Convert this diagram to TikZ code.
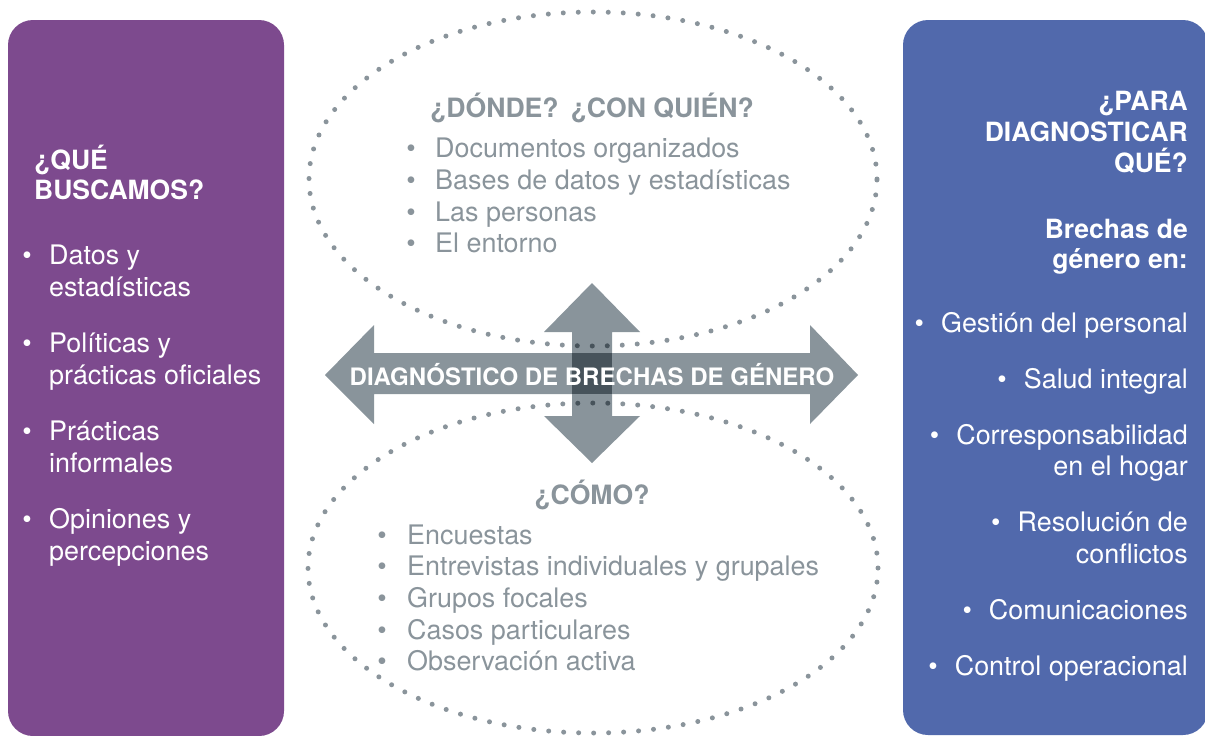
\documentclass[tikz,border=0pt]{standalone}
\usepackage{fontspec}
\setmainfont{TeX Gyre Heros}
\definecolor{purplebox}{HTML}{7D4A8E}
\definecolor{bluebox}{HTML}{5169AC}
\definecolor{arrowgray}{HTML}{89949B}
\definecolor{darkgray}{HTML}{47535B}
\definecolor{textgray}{HTML}{8A949B}
\begin{document}
\begin{tikzpicture}[x=1pt,y=-1pt,
  panel/.style={rounded corners=25pt},
  dots/.style={line width=5pt, line cap=round, dash pattern=on 0pt off 15pt},
  wtitle/.style={font=\fontsize{26.5}{30}\selectfont\bfseries, text=white, inner sep=0pt},
  wbody/.style={font=\fontsize{26.9}{31}\selectfont, text=white, inner sep=0pt},
  gtitle/.style={font=\fontsize{26.6}{30}\selectfont\bfseries, text=textgray, inner sep=0pt},
  gbody/.style={font=\fontsize{26.9}{31}\selectfont, text=textgray, inner sep=0pt},
  ctitle/.style={font=\fontsize{24}{28}\selectfont\bfseries, text=white, inner sep=0pt}]
\useasboundingbox (0,0) rectangle (1205,736);
% panels
\fill[purplebox, panel] (8,20) rectangle (284,736);
\fill[bluebox, panel] (903,20) rectangle (1208,735);
% dotted ellipses
\draw[dots, textgray] (593,179) ellipse [x radius=284pt, y radius=167pt];
\draw[dots, textgray] (593,568) ellipse [x radius=285pt, y radius=165pt];
% arrows
\fill[arrowgray] (325,375) -- (374,325) -- (374,353) -- (810,353) -- (810,325) -- (858,375) -- (810,424) -- (810,394) -- (374,394) -- (374,424) -- cycle;
\fill[arrowgray] (592,283) -- (640,332) -- (612,332) -- (612,416) -- (640,416) -- (592,463) -- (544,416) -- (572,416) -- (572,332) -- (544,332) -- cycle;
\fill[darkgray] (572,353) rectangle (612,394);
\begin{scope}
\clip (325,375) -- (374,325) -- (374,353) -- (810,353) -- (810,325) -- (858,375) -- (810,424) -- (810,394) -- (374,394) -- (374,424) -- cycle;
\draw[dots, darkgray] (593,179) ellipse [x radius=284pt, y radius=167pt];
\draw[dots, darkgray] (593,568) ellipse [x radius=285pt, y radius=165pt];
\end{scope}
\begin{scope}
\clip (592,283) -- (640,332) -- (612,332) -- (612,416) -- (640,416) -- (592,463) -- (544,416) -- (572,416) -- (572,332) -- (544,332) -- cycle;
\draw[dots, darkgray] (593,179) ellipse [x radius=284pt, y radius=167pt];
\draw[dots, darkgray] (593,568) ellipse [x radius=285pt, y radius=165pt];
\end{scope}
\node[ctitle, anchor=base] (center) at (592,385) {DIAGNÓSTICO DE BRECHAS DE GÉNERO};
% left panel
\node[wtitle, anchor=base west] (lt1) at (34,169) {¿QUÉ};
\node[wtitle, anchor=base west] (lt2) at (34,199) {BUSCAMOS?};
\foreach \y/\t/\b [count=\i] in {264/Datos y/1, 296/estadísticas/0, 352/Políticas y/1, 384/prácticas oficiales/0, 440/Prácticas/1, 472/informales/0, 528/Opiniones y/1, 560/percepciones/0}{
  \node[wbody, anchor=base west] (l\i) at (49,\y) {\t};
  \ifnum\b=1 \node[wbody, anchor=base] (lb\i) at (27,\y) {\textbullet}; \fi
}
% right panel
\node[wtitle, anchor=base east] (rt1) at (1188,110) {¿PARA};
\node[wtitle, anchor=base east] (rt2) at (1188,141) {DIAGNOSTICAR};
\node[wtitle, anchor=base east] (rt3) at (1188,172) {QUÉ?};
\node[wtitle, anchor=base east] (rt4) at (1188,238) {Brechas de};
\node[wtitle, anchor=base east] (rt5) at (1188,268) {género en:};
\foreach \y/\t [count=\i] in {332/\textbullet\hspace{17pt}Gestión del personal, 388/\textbullet\hspace{17pt}Salud integral, 444/\textbullet\hspace{17pt}Corresponsabilidad, 475/en el hogar, 531/\textbullet\hspace{17pt}Resolución de, 563/conflictos, 619/\textbullet\hspace{17pt}Comunicaciones, 675/\textbullet\hspace{17pt}Control operacional}{
  \node[wbody, anchor=base east] (r\i) at (1188,\y) {\t};
}
% top ellipse text
\node[gtitle, anchor=base] (tt) at (592,117) {¿DÓNDE?\hspace{12pt}¿CON QUIÉN?};
\foreach \y/\t [count=\i] in {157/Documentos organizados, 189/Bases de datos y estadísticas, 221/Las personas, 252/El entorno}{
  \node[gbody, anchor=base] (tb\i) at (411,\y) {\textbullet};
  \node[gbody, anchor=base west] (t\i) at (435,\y) {\t};
}
% bottom ellipse text
\node[gtitle, anchor=base] (bt) at (592,504) {¿CÓMO?};
\foreach \y/\t [count=\i] in {544/Encuestas, 575/Entrevistas individuales y grupales, 607/Grupos focales, 639/Casos particulares, 670/Observación activa}{
  \node[gbody, anchor=base] (bb\i) at (382,\y) {\textbullet};
  \node[gbody, anchor=base west] (b\i) at (407,\y) {\t};
}
\end{tikzpicture}
\end{document}
